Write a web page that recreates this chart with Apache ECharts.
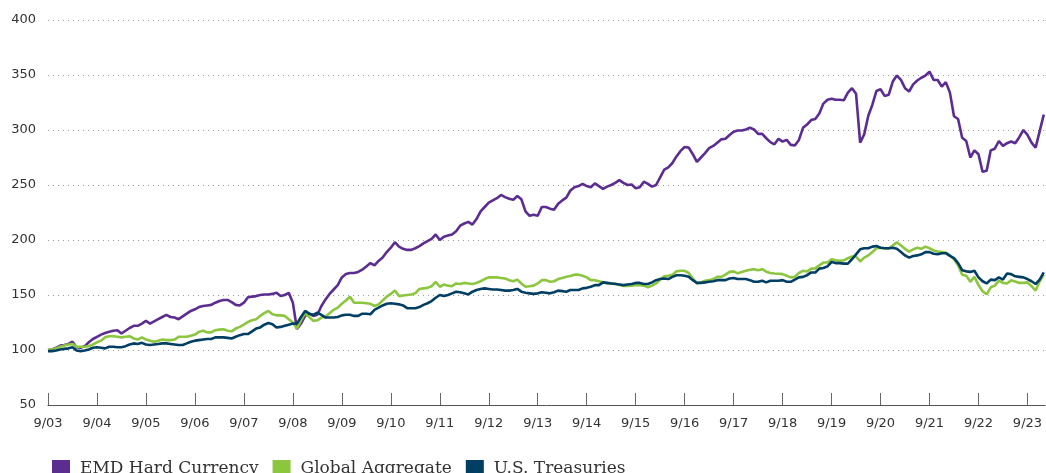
<!DOCTYPE html>
<html>
<head>
<meta charset="utf-8">
<script src="https://cdn.jsdelivr.net/npm/echarts@6/dist/echarts.min.js"></script>
<style>
  html, body { margin: 0; padding: 0; background: #ffffff; }
  #chart { width: 1046px; height: 473px; }
</style>
</head>
<body>
<div id="chart"></div>
<script>
// Monthly index values, Sep 2003 (index 0) through Jan 2024 (index 244)
const tickLabels = ['9/03','9/04','9/05','9/06','9/07','9/08','9/09','9/10','9/11','9/12','9/13','9/14','9/15','9/16','9/17','9/18','9/19','9/20','9/21','9/22','9/23'];
const seriesNames = ['EMD Hard Currency', 'Global Aggregate', 'U.S. Treasuries'];

const emdHardCurrency = [
  100,100.5,102,104,104.5,105.5,107.5,102.5,102,103.5,107,110,
  112,114,115.5,116.5,117.5,118,115,117.5,120,122,122,124,
  126.5,124,126,128,130,132,130,129.5,128,130.5,133,135.5,
  137,139,140,140.5,141,143,144.5,145.5,145.5,143.5,141,140.5,
  143,148,148.5,149,150,150.5,150.5,151,152,149,150,152,
  143,119,124,131,133,131,132,140,146,151,155,159,
  166,169,170,170,171,173,176,179,177,181,184,189,
  193,198,194,192,191,191,192.5,194.5,197,199,201,205,
  200,203,204,205,208,213,215,216.5,214,219,226,230,
  234,236,238,241,239,237.5,236.5,240,237,226,222,223,
  222,230,230,228.5,227.5,233,236,238.5,245,248,249,251,
  249,248,251.5,249,246.5,248.5,250,252,254.5,252,250,250.5,
  247,248,253,251,248.5,250,257,264,266,270,276,281,
  284.5,284,278,271,275,279,283.5,285.5,288.5,291.5,292,295.5,
  298.5,299.5,299.5,300.5,302,300.5,296.5,296.5,292.5,289,287,292,
  289.5,291,286.5,286,291,302,305,309,310,315,324,327.5,
  328.5,327.5,327.5,327,334,338,333,288.5,296,313,323,335.5,
  337,331,332,344,349.5,345.5,338,335,341.5,345,347.5,349.5,
  353,345.5,345.5,339.5,343.5,334,312.5,310,293,290,275,281.5,
  278,262,263,281.5,283,290,285.5,288,289.5,288,293.5,300,
  295.5,288.5,284,299,314
];

const globalAggregate = [
  100,100.5,101.5,103,104,105,105.5,103,103,103,103.5,105,
  107,108.5,111.5,112.5,112.5,112,111.5,112,112.5,110.5,109.5,111.5,
  109.5,108.5,107.5,108.5,109.5,109,109,109.5,112,112,112,113,
  114,116.5,117.5,116,116,118,118.5,118.8,117.5,117,119.5,121,
  123,125.5,127,128,131,133.5,135.5,132.5,131.5,131.5,131,128,
  125,119.5,127,133.5,130,126.5,127,129.5,130.5,133.5,136.5,138.5,
  142,145,148.5,143,143,143,142.5,142,140,141.5,145,148.5,
  151,154,149,149.5,150,150.5,151.5,155.5,156,156.5,158,162,
  157.5,159.5,158.5,158,160.5,160,161,160.5,160,161,162.5,164.5,
  166,166,166,165.5,165,163.5,162.5,164,160.5,157.5,158,158.5,
  160.5,163.5,163.5,162,162.5,164.5,165.5,166.5,167.3,168.5,168.5,167.5,
  166,163.5,163.5,162.5,161.5,160.5,160.5,160.5,159,158.2,158.2,158.5,
  159,159,158.5,157,158.5,160.5,164,167,167.5,168.5,171.5,172,
  172,170,165,160.5,161.5,163,163.5,164.5,166.5,166.5,168.5,171,
  171.5,169.7,171,172,173,173.5,172.5,173.5,171.2,170,169.5,169.3,
  169,167.5,166,166.5,170,172,171.5,174,174.2,177,179.5,179.5,
  182.5,181.5,181.2,181.5,183.4,185,185,180.5,184,186,189,192.5,
  193,192.5,192,195,198,195,192,189.5,191.5,193,192,194,
  192.5,190.5,189.5,189,188.5,186,182.5,177,168.5,167.6,162,166.5,
  159,153.5,150.6,157,158.5,163,161,160.5,163.5,162.3,161,161,
  161.5,158,154,162.5,168.5
];

const usTreasuries = [
  99,99,99.5,100.5,101,101.5,102.5,99.5,99,99.5,100.5,102,
  102.5,102,101.5,103,103,102.5,102.5,103.5,105,106,105.5,106.5,
  105,104.5,105,105.5,106,106,105.5,105,104.5,104.5,106,107.5,
  108.5,109,109.5,110,110,111.5,111.5,111.5,111,110.5,112,113.5,
  114.5,114.5,117,119.5,120.5,123,124.5,123.5,120.5,121,122,123,
  124,124,130,135.5,133,132,134,132,129.5,129.5,129.5,130,
  131.5,132,132,131,131,133,133,132.5,136.5,138.5,140.5,142,
  142.5,142,141.5,140.5,138,138,138,139,141,142.5,144.5,147.5,
  150,149,150,151.5,153,152.5,151.5,150.5,153,154.5,155.5,156,
  155.5,155,155,154.5,154,154,154.5,155.5,153,152,151.5,151,
  151.5,152.5,152,151.5,152.5,154,153.5,153,154.5,154.5,154.5,156,
  156.5,157.5,159,159,161.5,161,160.5,160,159.5,159,159.5,160,
  161,161,160,160,161.5,163.5,164.5,165,164.5,166.5,168,168,
  167.5,166.5,163.5,161,161,161.5,162,162.5,163.5,163.5,163.5,165,
  165.5,164.5,164.5,164.5,163.5,162,162,163,161.5,163,163,163,
  163.5,162,162,164,166,166.5,168,170.5,170.5,174,174.5,176,
  180,179,179,178.5,178.5,182.5,187,191.5,192.5,192.5,194,194.5,
  193,192.5,192.5,193,192,189,186,184,185.5,186,187,189,
  189,187.5,187,188,188,185.5,183.5,179,172.5,171.5,171,172,
  166,162.5,160.5,164,163.5,166,164,169.5,169,167,166.5,166,
  164.5,162.5,160,164,170.5
];

const colors = ['#5c2d91', '#8cc63f', '#003f63'];
const seriesValues = [emdHardCurrency, globalAggregate, usTreasuries];

const chart = echarts.init(document.getElementById('chart'), null, { renderer: 'canvas' });

const tickPositions = tickLabels.map((_, k) => k * 12);

chart.setOption({
  backgroundColor: '#ffffff',
  animation: false,
  color: colors,
  grid: { left: 48, right: 1, top: 20, bottom: 68, containLabel: false },
  legend: {
    data: seriesNames,
    left: 47,
    top: 455,
    icon: 'rect',
    itemWidth: 18,
    itemHeight: 18,
    itemGap: 14,
    textStyle: {
      fontFamily: 'DejaVu Serif',
      fontSize: 17,
      color: '#333333',
      padding: [0, 0, 0, 5]
    }
  },
  xAxis: {
    type: 'value',
    min: 0,
    max: 244.3,
    axisLine: { show: true, lineStyle: { color: '#555555', width: 1 } },
    axisTick: {
      show: true,
      inside: true,
      length: 12,
      customValues: tickPositions,
      lineStyle: { color: '#666666', width: 1 }
    },
    axisLabel: {
      customValues: tickPositions,
      formatter: function (v) { return tickLabels[Math.round(v / 12)] || ''; },
      color: '#333333',
      fontFamily: 'DejaVu Sans',
      fontSize: 13,
      margin: 12
    },
    splitLine: { show: false }
  },
  yAxis: {
    type: 'value',
    min: 50,
    max: 400,
    interval: 50,
    axisLine: { show: false },
    axisTick: { show: false },
    axisLabel: {
      color: '#333333',
      fontFamily: 'DejaVu Sans',
      fontSize: 13,
      margin: 12
    },
    splitLine: {
      show: true,
      lineStyle: { color: '#9a9a9a', type: [1, 4], width: 1.2 }
    }
  },
  series: seriesNames.map((name, s) => ({
    name: name,
    type: 'line',
    data: seriesValues[s].map((v, i) => [i, v]),
    showSymbol: false,
    symbol: 'none',
    lineStyle: { width: 2.6, color: colors[s] },
    itemStyle: { color: colors[s] },
    z: 3 + s
  }))
});
</script>
</body>
</html>
